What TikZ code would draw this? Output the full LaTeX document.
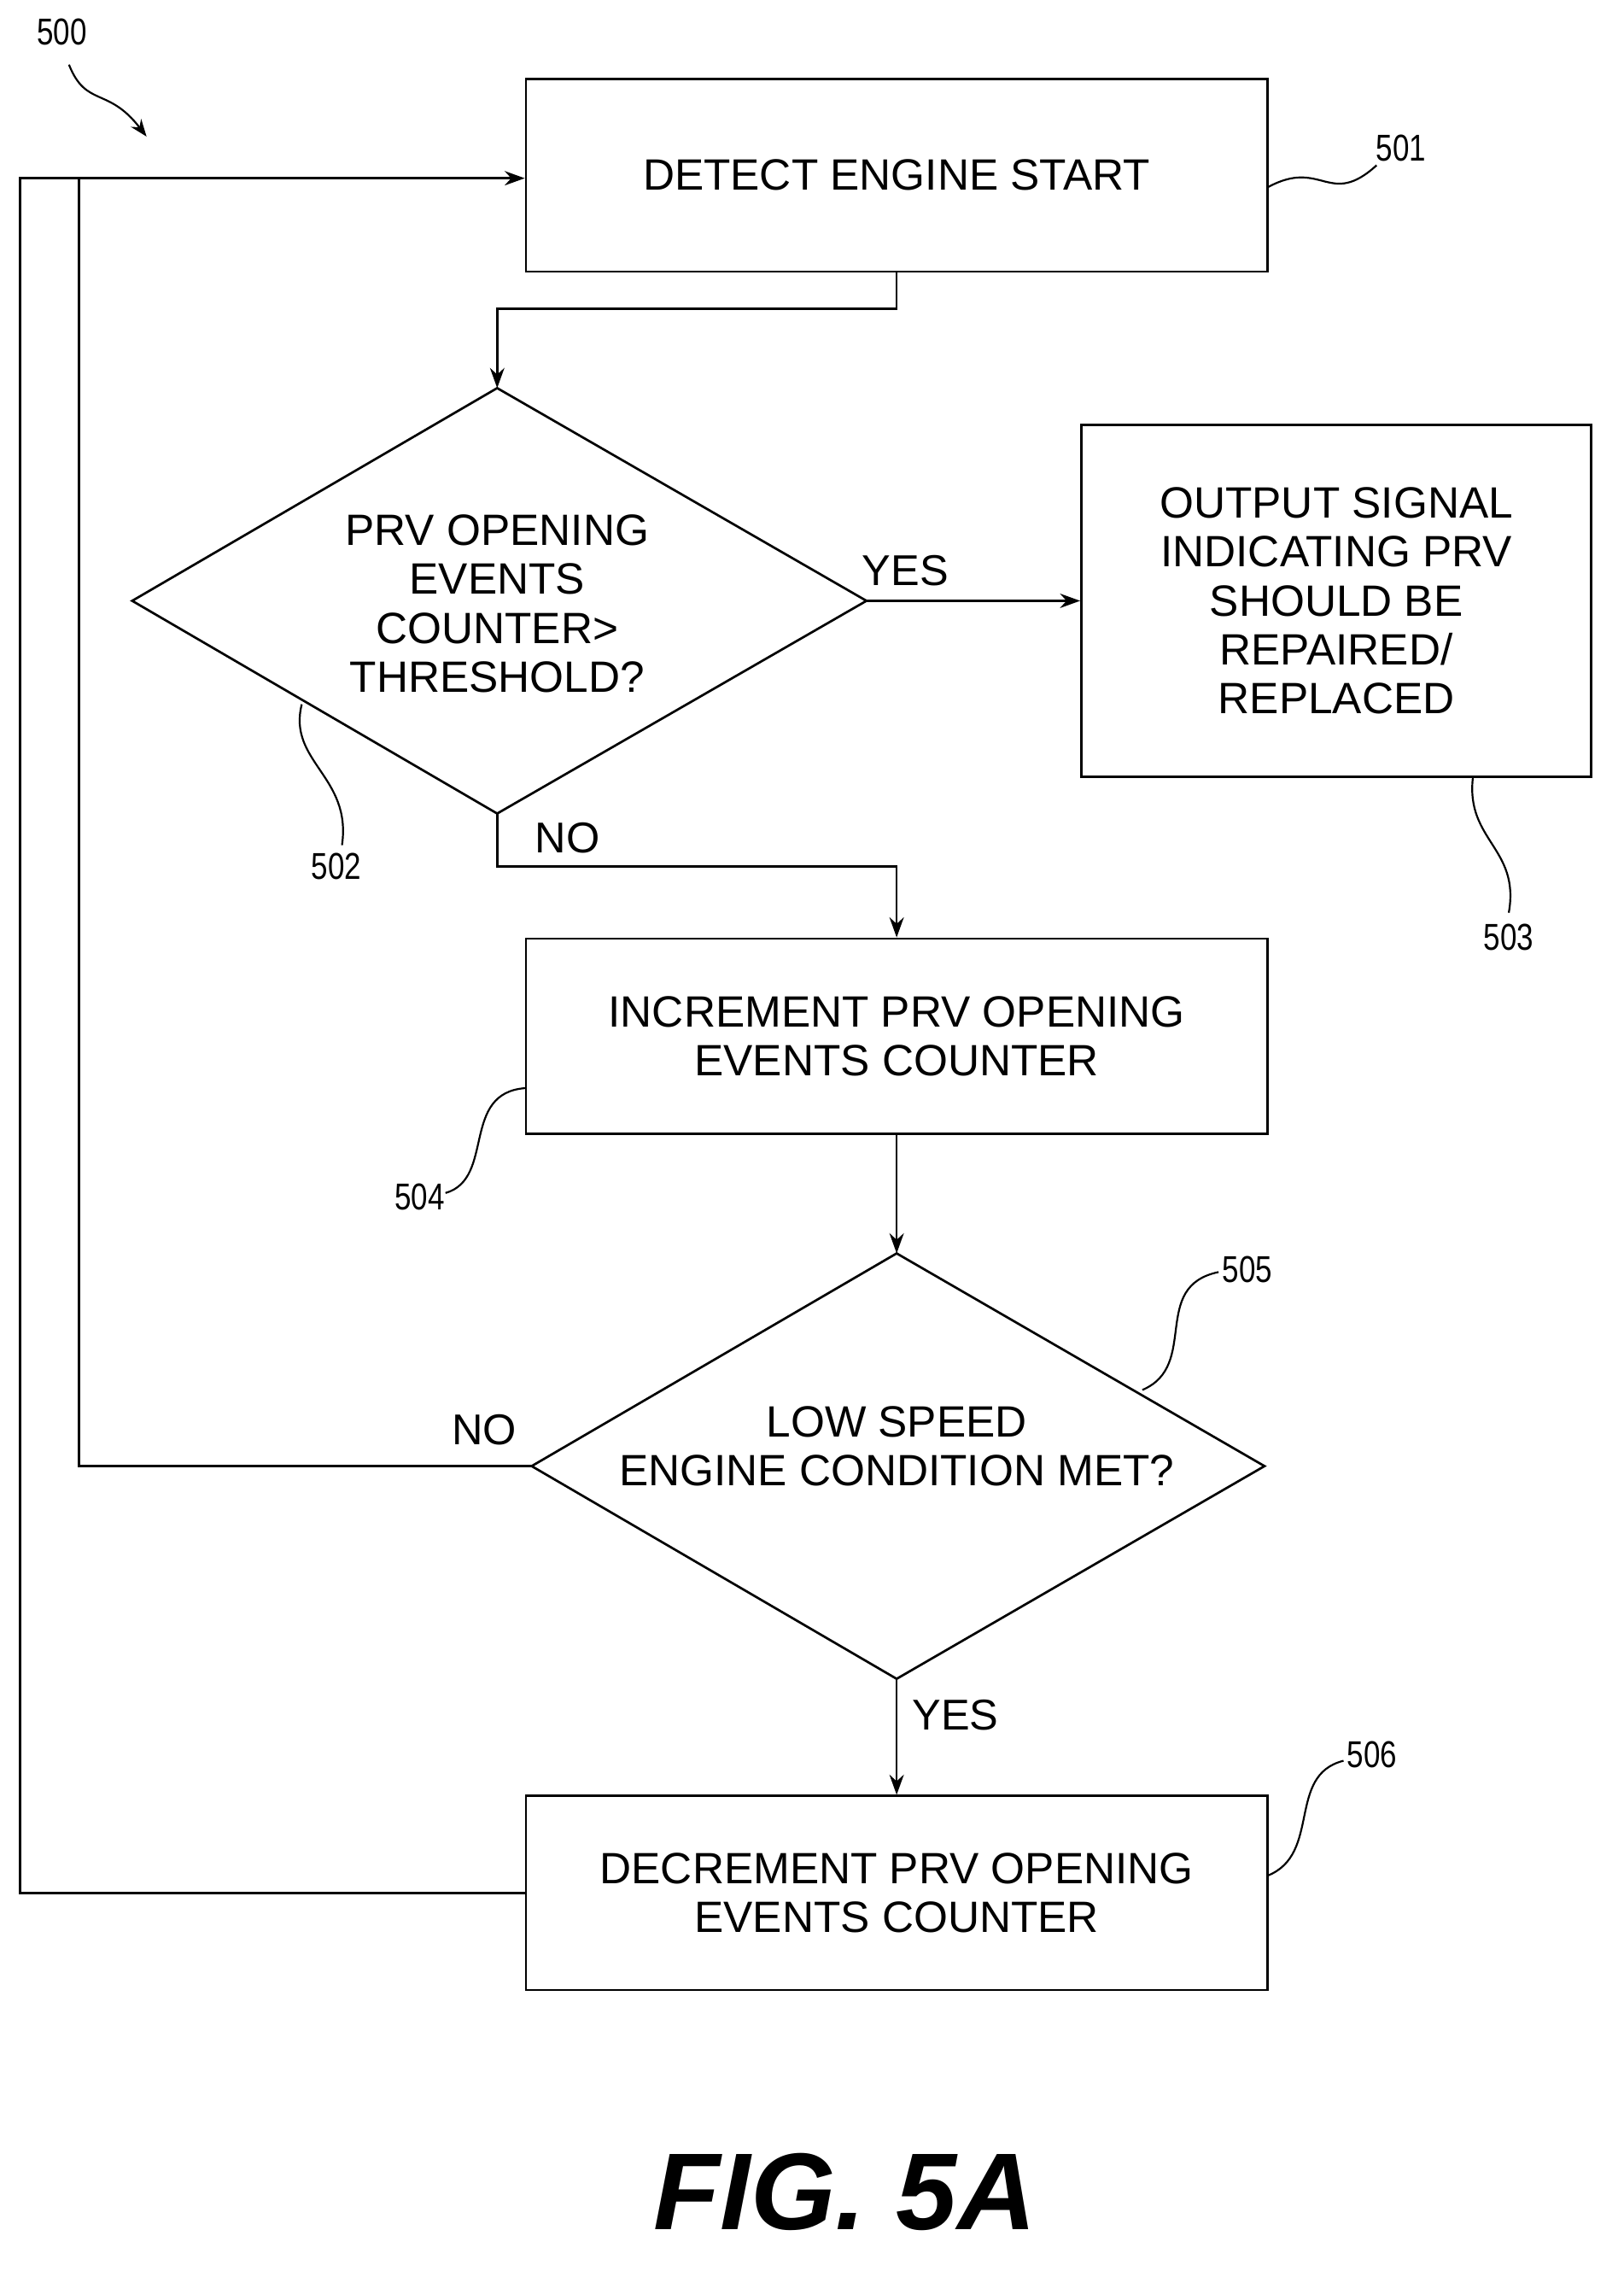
\documentclass[tikz,border=0pt]{standalone}
\usepackage{fontspec}
\setmainfont{Liberation Sans}
\usetikzlibrary{shapes.geometric,arrows.meta}
\begin{document}
\begin{tikzpicture}[x=1pt,y=-1pt,
  box/.style={draw,line width=1.6pt,inner sep=0pt,align=center,font=\fontsize{30.5}{34}\selectfont},
  ln/.style={line width=1.6pt},
  arr/.style={line width=1.6pt,-{Stealth[length=14pt,width=10pt]}},
  lbl/.style={font=\fontsize{30}{32}\selectfont},
  ref/.style={font=\fontsize{26}{28}\selectfont,xscale=0.8},
  sq/.style={line width=1.3pt}]
\useasboundingbox (0,0) rectangle (1130,1580);
\node[box,minimum width=516pt,minimum height=134pt] (b501) at (624,122) {DETECT ENGINE START};
\node[box,minimum width=355pt,minimum height=245pt] (b503) at (930,418) {OUTPUT SIGNAL\\INDICATING PRV\\SHOULD BE\\REPAIRED/\\REPLACED};
\node[box,minimum width=516pt,minimum height=136pt] (b504) at (624,721) {INCREMENT PRV OPENING\\EVENTS COUNTER};
\node[box,minimum width=516pt,minimum height=135pt] (b506) at (624,1317) {DECREMENT PRV OPENING\\EVENTS COUNTER};
\draw[ln] (92,418) coordinate (d2w) -- (346,270) coordinate (d2n) -- (603,418) coordinate (d2e) -- (346,566) coordinate (d2s) -- cycle;
\node[align=center,font=\fontsize{30.5}{34}\selectfont] (t502) at (346,420) {PRV OPENING\\EVENTS\\COUNTER>\\THRESHOLD?};
\draw[ln] (370,1020) coordinate (d5w) -- (624,872) coordinate (d5n) -- (880,1020) coordinate (d5e) -- (624,1168) coordinate (d5s) -- cycle;
\node[align=center,font=\fontsize{30.5}{34}\selectfont] (t505) at (624,1006) {LOW SPEED\\ENGINE CONDITION MET?};
\coordinate (c1) at (624,215); \coordinate (c2) at (346,215);
\draw[arr] (b501.south) -- (c1) -- (c2) -- (d2n);
\draw[arr] (d2e) -- (b503.west);
\node[lbl] (yes1) at (630,397) {YES};
\coordinate (c3) at (346,603); \coordinate (c4) at (624,603);
\draw[arr] (d2s) -- (c3) -- (c4) -- (b504.north);
\node[lbl] (no1) at (395,583) {NO};
\draw[arr] (b504.south) -- (d5n);
\draw[arr] (d5s) -- (b506.north);
\node[lbl] (yes2) at (665,1193) {YES};
\coordinate (c5) at (55,1020); \coordinate (c6) at (55,124);
\draw[ln] (d5w) -- (c5) -- (c6);
\node[lbl] (no2) at (337,995) {NO};
\coordinate (c7) at (14,1317); \coordinate (c8) at (14,124);
\draw[arr] (b506.west) -- (c7) -- (c8) -- (b501.west |- c8);
\node[ref] (r500) at (43,22) {500};
\coordinate (a500) at (102,95);
\draw[sq,-{Stealth[length=12pt,width=9pt]}] (48,45) .. controls (60,75) and (75,60) .. (a500);
\node[ref] (r501) at (975,103) {501};
\draw[sq] (b501.east |- 0,130) .. controls (920,110) and (925,145) .. (958,115);
\node[ref] (r502) at (234,603) {502};
\draw[sq] (210,490) .. controls (200,530) and (245,540) .. (238,588);
\node[ref] (r503) at (1050,652) {503};
\draw[sq] (1025,541) .. controls (1020,585) and (1058,590) .. (1050,635);
\node[ref] (r504) at (292,833) {504};
\draw[sq] (366,757) .. controls (320,760) and (345,820) .. (310,830);
\node[ref] (r505) at (868,883) {505};
\draw[sq] (795,967) .. controls (835,950) and (800,895) .. (848,885);
\node[ref] (r506) at (955,1221) {506};
\draw[sq] (882,1305) .. controls (920,1290) and (895,1235) .. (935,1225);
\node[font=\fontsize{76}{80}\selectfont\bfseries\itshape] (fig) at (588,1525) {FIG. 5A};
\end{tikzpicture}
\end{document}
